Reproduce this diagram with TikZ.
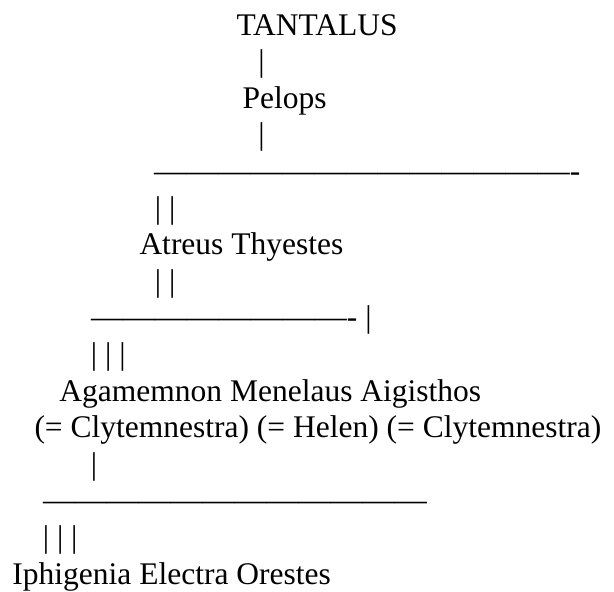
\documentclass[tikz,border=0pt]{standalone}
\usepackage{fontspec}
\usepackage{graphicx}
\setmainfont{Liberation Serif}
\tikzset{
  txt/.style={anchor=base west, inner sep=0pt, outer sep=0pt, text=black,
    font=\fontsize{31.5}{36}\selectfont},
}
\newcommand{\dashfont}{\fontsize{32}{36}\selectfont}
\begin{document}
\begin{tikzpicture}[x=1pt,y=-1pt]
  \fill[white] (0,0) rectangle (614,592);
  \useasboundingbox (0,0) rectangle (614,592);
  \node[txt] (tantalus) at (236.5,35)   {TANTALUS};
  \node[txt] (bar1)     at (258.3,71.6) {|};
  \node[txt] (pelops)   at (242.5,108.2){Pelops};
  \node[txt] (bar2)     at (258.3,144.8){|};
  \node[txt] (line1)    at (154,181.4)  {{\dashfont —————————————}-};
  \node[txt] (bars3)    at (154.9,218)  {| |};
  \node[txt] (atreus)   at (139.5,254.6){Atreus Thyestes};
  \node[txt] (bars4)    at (154.9,291.2){| |};
  \node[txt] (line2)    at (91,327.8)   {{\dashfont ————————}- |};
  \node[txt] (bars5)    at (90.9,364.4) {| | |};
  \node[txt] (agam)     at (59.5,401)   {Agamemnon Menelaus Aigisthos};
  \node[txt] (wives)    at (34.5,437.6) {(= Clytemnestra) (= Helen) (= Clytemnestra)};
  \node[txt] (bar6)     at (90.9,474.2) {|};
  \node[txt] (line3)    at (43,510.8)   {{\dashfont ————————————}};
  \node[txt] (bars7)    at (42.9,547.4) {| | |};
  \node[txt] (children) at (12.5,584)   {Iphigenia Electra Orestes};
\end{tikzpicture}
\end{document}
